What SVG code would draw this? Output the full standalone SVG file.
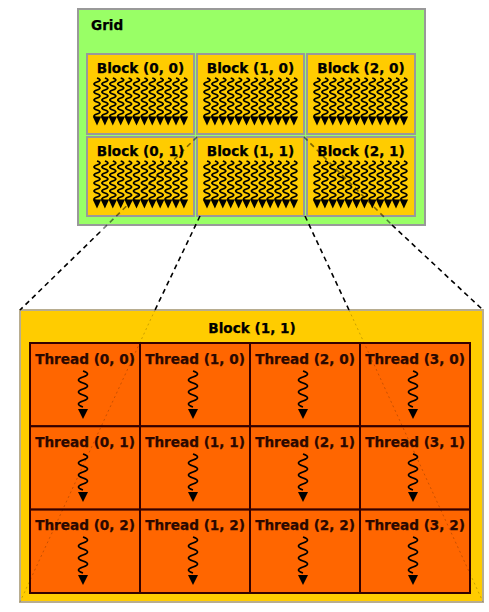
<svg xmlns="http://www.w3.org/2000/svg" xmlns:xlink="http://www.w3.org/1999/xlink" width="489" height="612" viewBox="0 0 489 612">
<style>
.lbl{font-family:"DejaVu Sans","Verdana",sans-serif;font-weight:bold;font-size:13.6px;fill:#000;text-anchor:middle;stroke:#000;stroke-width:0.25}
.tl{fill:#2a0800;stroke:#2a0800}
.blk{fill:#ffcc00;stroke:#999;stroke-width:2}
.cell{fill:#ff6600;stroke:#330000;stroke-width:2}
.wv{fill:none;stroke:#000;stroke-width:1.7}
.dash{stroke:#000;stroke-width:1.6;stroke-dasharray:5,4;fill:none}
.faint{stroke:#000;stroke-width:1;stroke-dasharray:2,3;fill:none;opacity:0.22}
</style>
<defs>
<g id="w">
<path class="wv" d="M0,0 q6,2 0,4 q-6,2 0,4 q6,2 0,4 q-6,2 0,4 q6,2 0,4 q-6,2 0,4 q6,2 0,4 q-6,2 0,4 q6,2 0,4 q-6,2 0,4"/>
<polygon points="-4.2,38.5 4.2,38.5 0,47.5" fill="#000"/>
</g>
<g id="bt">
<use href="#w" x="10"/><use href="#w" x="17.9"/><use href="#w" x="25.8"/><use href="#w" x="33.7"/>
<use href="#w" x="41.6"/><use href="#w" x="49.5"/><use href="#w" x="57.4"/><use href="#w" x="65.3"/>
<use href="#w" x="73.2"/><use href="#w" x="81.1"/><use href="#w" x="89"/><use href="#w" x="96.9"/>
</g>
<g id="tt">
<path class="wv" d="M0,0 q9,3 0,6 q-9,3 0,6 q9,3 0,6 q-9,3 0,6 q9,3 0,6 q-9,3 0,6" stroke-width="1.6"/>
<polygon points="-5,38 5,38 0,48" fill="#000"/>
</g>
</defs>

<g id="grid">
<rect x="78" y="9" width="347" height="216" fill="#99ff66" stroke="#999" stroke-width="2"/>
<text class="lbl" x="91" y="30" style="text-anchor:start">Grid</text>
</g>
<g id="block-0-0"><rect class="blk" x="87" y="54" width="107" height="80"/><text class="lbl" x="140.5" y="73">Block (0, 0)</text><use href="#bt" x="87" y="78"/></g>
<g id="block-1-0"><rect class="blk" x="197" y="54" width="107" height="80"/><text class="lbl" x="250.5" y="73">Block (1, 0)</text><use href="#bt" x="197" y="78"/></g>
<g id="block-2-0"><rect class="blk" x="307" y="54" width="108" height="80"/><text class="lbl" x="361" y="73">Block (2, 0)</text><use href="#bt" x="307" y="78"/></g>
<g id="block-0-1"><rect class="blk" x="87" y="137" width="107" height="79"/><text class="lbl" x="140.5" y="156">Block (0, 1)</text><use href="#bt" x="87" y="161"/></g>
<g id="block-1-1"><rect class="blk" x="197" y="137" width="107" height="79"/><text class="lbl" x="250.5" y="156">Block (1, 1)</text><use href="#bt" x="197" y="161"/></g>
<g id="block-2-1"><rect class="blk" x="307" y="137" width="108" height="79"/><text class="lbl" x="361" y="156">Block (2, 1)</text><use href="#bt" x="307" y="161"/></g>

<g id="block-detail">
<rect x="20" y="310" width="463" height="292" fill="#ffcc00" stroke="#b8ad90" stroke-width="2"/>
<text class="lbl" x="252" y="333">Block (1, 1)</text>
</g>
<g id="thread-0-0"><rect class="cell" x="30" y="343" width="110" height="83.3"/><text class="lbl tl" x="85" y="364">Thread (0, 0)</text><use href="#tt" x="83" y="371"/></g>
<g id="thread-1-0"><rect class="cell" x="140" y="343" width="110" height="83.3"/><text class="lbl tl" x="195" y="364">Thread (1, 0)</text><use href="#tt" x="193" y="371"/></g>
<g id="thread-2-0"><rect class="cell" x="250" y="343" width="110" height="83.3"/><text class="lbl tl" x="305" y="364">Thread (2, 0)</text><use href="#tt" x="303" y="371"/></g>
<g id="thread-3-0"><rect class="cell" x="360" y="343" width="110" height="83.3"/><text class="lbl tl" x="415" y="364">Thread (3, 0)</text><use href="#tt" x="413" y="371"/></g>
<g id="thread-0-1"><rect class="cell" x="30" y="426.3" width="110" height="83.3"/><text class="lbl tl" x="85" y="447">Thread (0, 1)</text><use href="#tt" x="83" y="454"/></g>
<g id="thread-1-1"><rect class="cell" x="140" y="426.3" width="110" height="83.3"/><text class="lbl tl" x="195" y="447">Thread (1, 1)</text><use href="#tt" x="193" y="454"/></g>
<g id="thread-2-1"><rect class="cell" x="250" y="426.3" width="110" height="83.3"/><text class="lbl tl" x="305" y="447">Thread (2, 1)</text><use href="#tt" x="303" y="454"/></g>
<g id="thread-3-1"><rect class="cell" x="360" y="426.3" width="110" height="83.3"/><text class="lbl tl" x="415" y="447">Thread (3, 1)</text><use href="#tt" x="413" y="454"/></g>
<g id="thread-0-2"><rect class="cell" x="30" y="509.6" width="110" height="83.4"/><text class="lbl tl" x="85" y="530">Thread (0, 2)</text><use href="#tt" x="83" y="537"/></g>
<g id="thread-1-2"><rect class="cell" x="140" y="509.6" width="110" height="83.4"/><text class="lbl tl" x="195" y="530">Thread (1, 2)</text><use href="#tt" x="193" y="537"/></g>
<g id="thread-2-2"><rect class="cell" x="250" y="509.6" width="110" height="83.4"/><text class="lbl tl" x="305" y="530">Thread (2, 2)</text><use href="#tt" x="303" y="537"/></g>
<g id="thread-3-2"><rect class="cell" x="360" y="509.6" width="110" height="83.4"/><text class="lbl tl" x="415" y="530">Thread (3, 2)</text><use href="#tt" x="413" y="537"/></g>

<g id="connectors">
<line class="dash" x1="197" y1="137" x2="100" y2="232" opacity="0.5"/>
<line class="dash" x1="304" y1="137" x2="392" y2="225" opacity="0.5"/>
<line class="dash" x1="100" y1="232" x2="20" y2="310"/>
<line class="dash" x1="392" y1="225" x2="483" y2="310"/>
<line class="dash" x1="200" y1="216" x2="155" y2="310"/>
<line class="dash" x1="305" y1="216" x2="349" y2="310"/>
<line class="faint" x1="155" y1="310" x2="20" y2="602"/>
<line class="faint" x1="349" y1="310" x2="483" y2="602"/>
</g>
</svg>
